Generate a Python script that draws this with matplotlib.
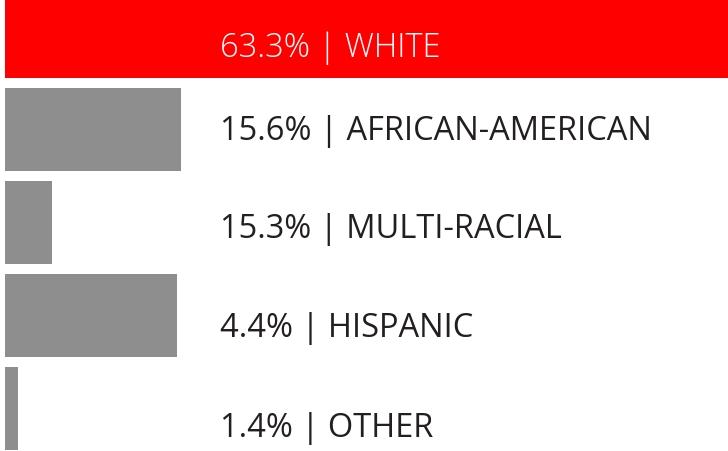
""" Race / ethnicity breakdown as horizontal bars """

import matplotlib
matplotlib.use("Agg")
import matplotlib.pyplot as plt
import matplotlib.transforms as mtrans
import numpy as np

groups = ["WHITE", "AFRICAN-AMERICAN", "MULTI-RACIAL", "HISPANIC", "OTHER"]
label_pct = [63.3, 15.6, 15.3, 4.4, 1.4]
# bar lengths as drawn in the source graphic (not in label order)
bar_len = [63.3, 15.4, 4.1, 15.1, 1.1]
bar_colors = ["#ff0000", "#8e8e8e", "#8e8e8e", "#8e8e8e", "#8e8e8e"]
text_colors = ["white", "#231f20", "#231f20", "#231f20", "#231f20"]
text_weights = ["light", "normal", "normal", "normal", "normal"]

# baseline of each label, in row units
text_base = [0.21, 1.10, 2.156, 3.22, 4.296]

fig = plt.figure(figsize=(7.28, 4.52), dpi=100)
ax = fig.add_axes([0, 0, 1, 1])

rows = np.arange(len(groups))
ax.barh(rows, bar_len, height=0.89, color=bar_colors, left=0)

ax.set_xlim(-0.44, 63.3)
ax.set_ylim(4.457, -0.403)
ax.axis("off")

trans = mtrans.blended_transform_factory(ax.transAxes, ax.transData)
for ii, g in enumerate(groups):
    ax.text(0.302, text_base[ii], "%.1f%% | %s" % (label_pct[ii], g),
            transform=trans, va="baseline", ha="left",
            fontsize=23.5, family="Open Sans", fontweight=text_weights[ii],
            color=text_colors[ii])

fig.savefig("out.png", dpi=100)
